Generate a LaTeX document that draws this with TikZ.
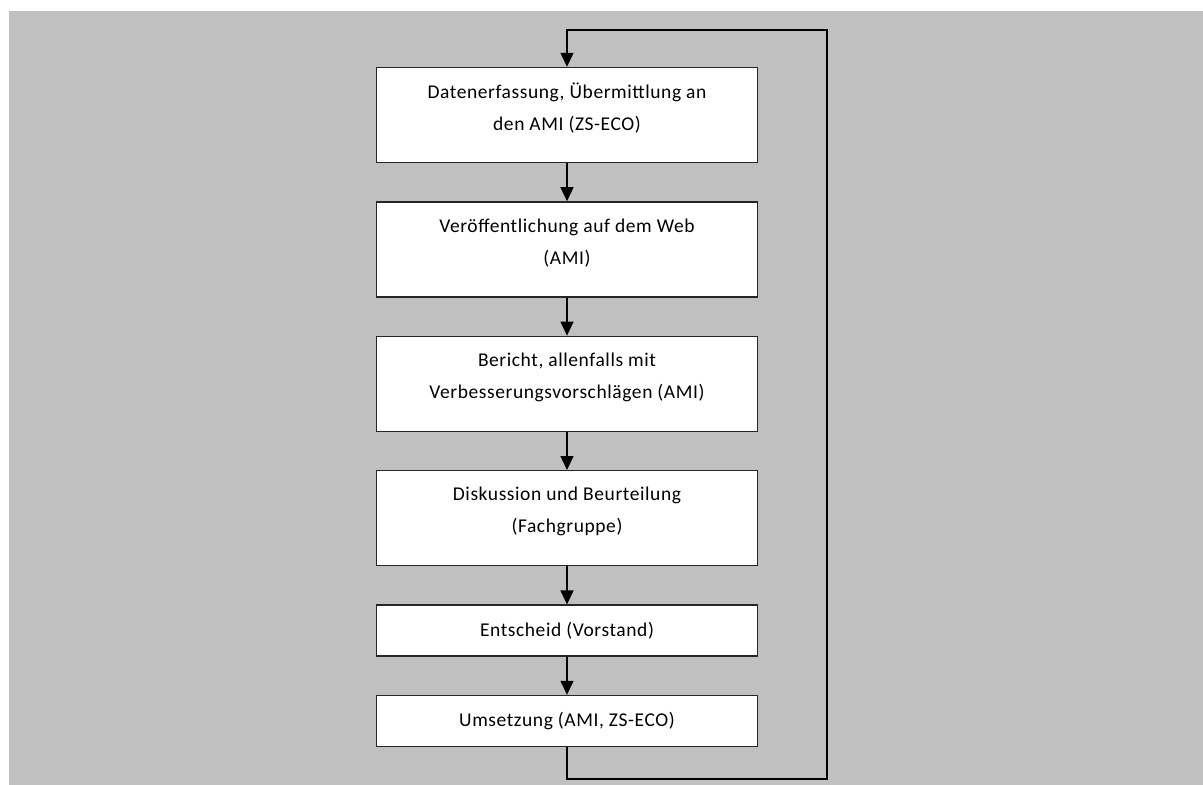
\documentclass[tikz,border=0pt]{standalone}
\usepackage{fontspec}
\setmainfont[LetterSpace=3]{Carlito}
\usepackage{xcolor}
\usepackage{tikz}
\usetikzlibrary{positioning,arrows.meta}
\definecolor{panelgray}{RGB}{192,192,192}

\begin{document}
\begin{tikzpicture}[x=1pt, y=-1pt, font=\fontsize{19.5}{32}\selectfont, node distance=38pt,
		proc/.style={draw=black!85, line width=1.4pt, fill=white, minimum width=381pt, align=center, inner sep=0pt},
		tall/.style={proc, minimum height=95pt, text depth=16pt},
		short/.style={proc, minimum height=51pt},
		flow/.style={line width=1.4pt, -{Triangle[width=13pt, length=14pt]}}]
		\useasboundingbox (0,0) rectangle (1203,785);
		\fill[panelgray] (9,11) rectangle (1203,785);
		\node[tall] (erfassung) at (567,115) {Datenerfassung, Übermittlung an\\den AMI (ZS-ECO)};
		\node[tall, below=of erfassung] (web) {Veröffentlichung auf dem Web\\(AMI)};
		\node[tall, below=of web] (bericht) {Bericht, allenfalls mit\\Verbesserungsvorschlägen (AMI)};
		\node[tall, below=of bericht] (beurteilung) {Diskussion und Beurteilung\\(Fachgruppe)};
		\node[short, below=of beurteilung] (entscheid) {Entscheid (Vorstand)};
		\node[short, below=of entscheid] (umsetzung) {Umsetzung (AMI, ZS-ECO)};
		\draw[flow] (erfassung) -- (web);
		\draw[flow] (web) -- (bericht);
		\draw[flow] (bericht) -- (beurteilung);
		\draw[flow] (beurteilung) -- (entscheid);
		\draw[flow] (entscheid) -- (umsetzung);
		% back to the start
		\coordinate (lowright) at (827,779);
		\coordinate (upright) at (827,30);
		\draw[flow] (umsetzung.south) -- (umsetzung.south |- lowright) -- (lowright) -- (upright) -- (erfassung.north |- upright) -- (erfassung.north);
	\end{tikzpicture}
\end{document}
